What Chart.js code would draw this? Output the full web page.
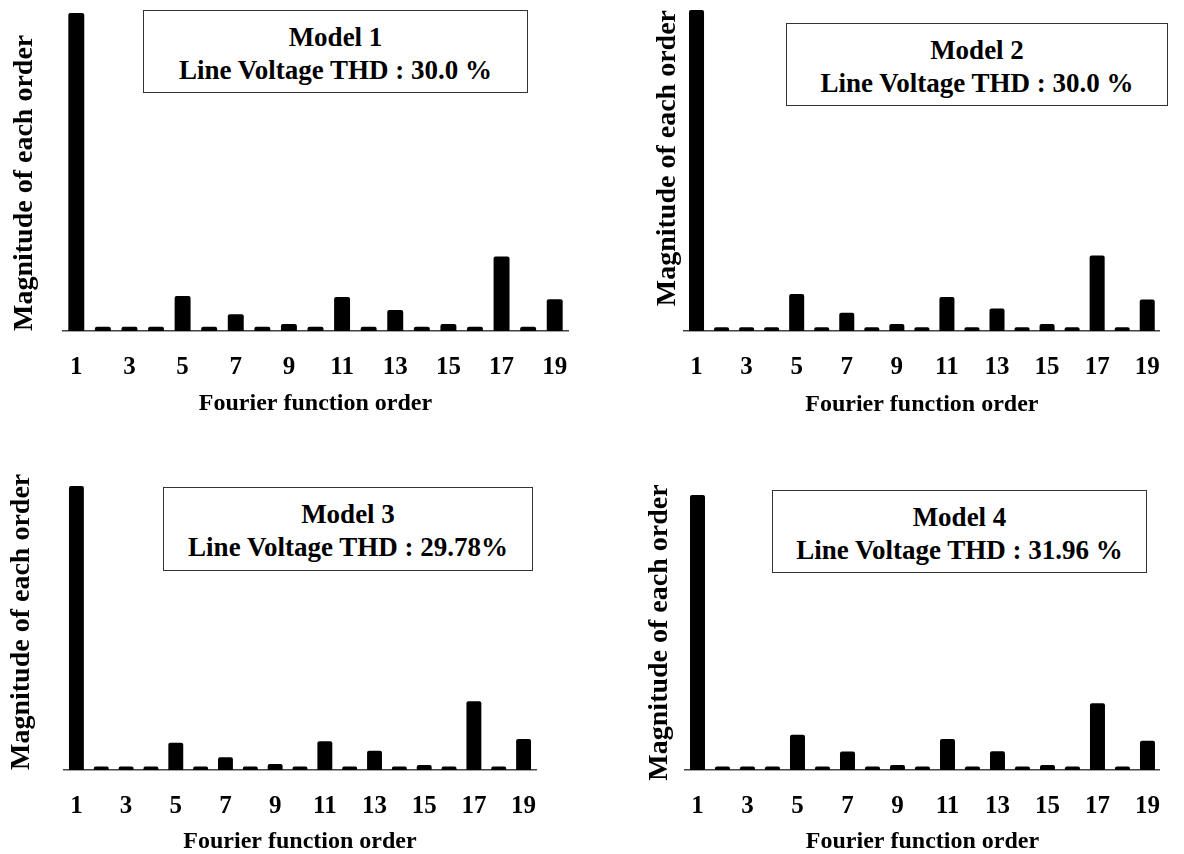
<!DOCTYPE html>
<html>
<head>
<meta charset="utf-8">
<script src="https://cdn.jsdelivr.net/npm/chart.js@4"></script>
<style>
  body { margin: 0; background: #fff; }
  #wrap { position: relative; width: 1184px; height: 854px; overflow: hidden; }
  .panel { position: absolute; width: 592px; height: 427px; }
  .note {
    position: absolute; box-sizing: border-box; border: 1px solid #333; background: #fff;
    font: bold 27px "Liberation Serif", "Times New Roman", serif; color: #000;
    text-align: center; line-height: 33px; padding-top: 10px; white-space: nowrap;
  }
</style>
</head>
<body>
<div id="wrap"></div>
<script>
// harmonic orders on the x axis
var orders = ['1','2','3','4','5','6','7','8','9','10','11','12','13','14','15','16','17','18','19'];

// magnitude of each order, relative to the fundamental (=100)
var model1 = [100, 1.3, 1.3, 1.3, 11.0, 1.3, 5.3, 1.3, 2.2, 1.3, 10.7, 1.3, 6.6, 1.3, 2.2, 1.3, 23.4, 1.3, 10.0];
var model2 = [100, 1.2, 1.2, 1.2, 11.5, 1.2, 5.7, 1.2, 2.2, 1.2, 10.6, 1.2, 7.0, 1.2, 2.2, 1.2, 23.5, 1.2, 9.8];
var model3 = [100, 1.2, 1.2, 1.2, 9.6, 1.2, 4.5, 1.2, 2.1, 1.2, 10.1, 1.2, 6.8, 1.2, 1.8, 1.2, 24.2, 1.2, 10.9];
var model4 = [100, 1.3, 1.3, 1.3, 12.8, 1.3, 6.7, 1.3, 1.8, 1.3, 11.3, 1.3, 6.8, 1.3, 1.8, 1.3, 24.3, 1.3, 10.6];

var modelNames = ['Model 1', 'Model 2', 'Model 3', 'Model 4'];
var thdLabels = ['Line Voltage THD : 30.0 %', 'Line Voltage THD : 30.0 %', 'Line Voltage THD : 29.78%', 'Line Voltage THD : 31.96 %'];
var xTitle = 'Fourier function order';
var yTitle = 'Magnitude of each order';

// layout of the four panels (pixels inside each 592x427 panel)
var panels = [
  { left: 0,   top: 0,   data: model1, area: { l: 63, r: 568, t: 13, b: 331 }, yPad: 11, yAlign: 'start',  xPad: 11, box: { x: 143, y: 10, w: 385, h: 83 } },
  { left: 592, top: 0,   data: model2, area: { l: 92, r: 582, t: 10, b: 331 }, yPad: 62, yAlign: 'end',    xPad: 10, box: { x: 194, y: 23, w: 382, h: 83 } },
  { left: 0,   top: 427, data: model3, area: { l: 64, r: 536, t: 59, b: 343 }, yPad: 8,  yAlign: 'start',  xPad: 0,  box: { x: 163, y: 60, w: 370, h: 84 } },
  { left: 592, top: 427, data: model4, area: { l: 93, r: 591, t: 68, b: 343 }, yPad: 54, yAlign: 'center', xPad: 0,  box: { x: 180, y: 63, w: 375, h: 83 } }
];

var serif = '"Liberation Serif", "Times New Roman", serif';
var wrap = document.getElementById('wrap');

panels.forEach(function (p, k) {
  var div = document.createElement('div');
  div.className = 'panel';
  div.style.left = p.left + 'px';
  div.style.top = p.top + 'px';
  var canvas = document.createElement('canvas');
  div.appendChild(canvas);
  wrap.appendChild(div);

  var note = document.createElement('div');
  note.className = 'note';
  note.style.left = (p.left + p.box.x) + 'px';
  note.style.top = (p.top + p.box.y) + 'px';
  note.style.width = p.box.w + 'px';
  note.style.height = p.box.h + 'px';
  note.innerHTML = modelNames[k] + '<br>' + thdLabels[k];
  wrap.appendChild(note);

  new Chart(canvas.getContext('2d'), {
    type: 'bar',
    data: {
      labels: orders,
      datasets: [{
        data: p.data,
        backgroundColor: '#000',
        barPercentage: 0.6,
        categoryPercentage: 1,
        borderRadius: 2
      }]
    },
    options: {
      responsive: true,
      maintainAspectRatio: false,
      animation: false,
      layout: { padding: { left: 0, right: 592 - p.area.r, top: p.area.t, bottom: 0 } },
      plugins: { legend: { display: false }, tooltip: { enabled: false } },
      scales: {
        x: {
          offset: true,
          grid: { display: false, drawTicks: false },
          border: { display: true, color: '#444', width: 1.5 },
          ticks: {
            autoSkip: false, maxRotation: 0, padding: 24, color: '#000',
            font: { family: serif, size: 25, weight: 'bold', lineHeight: 1 },
            callback: function (v, i) { return i % 2 === 0 ? orders[i] : ''; }
          },
          title: {
            display: true, text: xTitle, color: '#000',
            font: { family: serif, size: 24, weight: 'bold', lineHeight: 1 },
            padding: { top: 0, bottom: p.xPad }
          },
          afterFit: function (scale) { scale.height = 427 - p.area.b; }
        },
        y: {
          min: 0, max: 100,
          grid: { display: false, drawTicks: false },
          border: { display: false },
          ticks: { display: false },
          title: {
            display: true, text: yTitle, color: '#000', align: p.yAlign,
            font: { family: serif, size: 28, weight: 'bold', lineHeight: 1 },
            padding: { top: p.yPad, bottom: 0 }
          },
          afterFit: function (scale) { scale.width = p.area.l; }
        }
      }
    }
  });
});
</script>
</body>
</html>
